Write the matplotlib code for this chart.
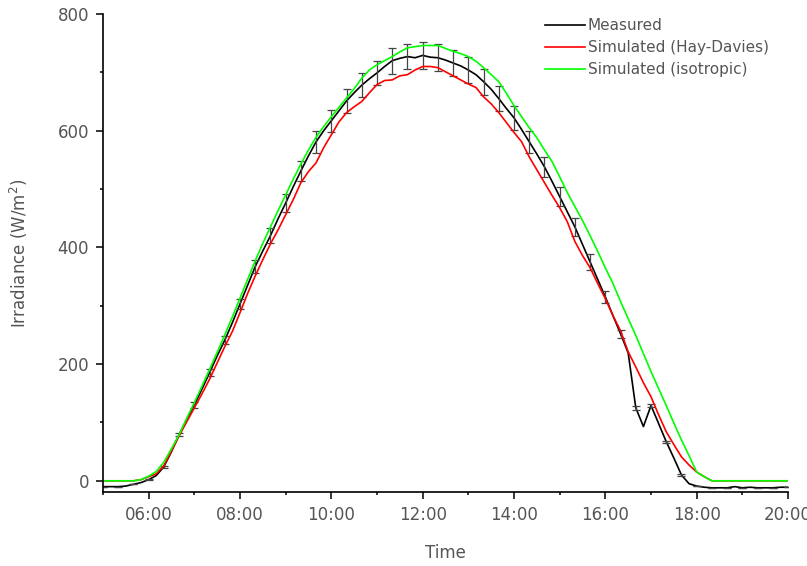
import numpy as np
import matplotlib
matplotlib.use("Agg")
import matplotlib.pyplot as plt
from matplotlib.ticker import MultipleLocator

# time of day in hours, 10 min steps from 05:00 to 20:00
hours = 5 + np.arange(91) / 6

# measured irradiance (W/m2)
measured = [-10, -10, -10, -9, -6, -3, 2, 9, 24, 50,
            79, 105, 130, 157, 185, 214, 241, 271, 303, 335,
            367, 394, 420, 449, 476, 504, 531, 557, 581, 600,
            617, 634, 651, 665, 678, 689, 699, 710, 720, 724,
            727, 725, 729, 726, 725, 721, 716, 711, 704, 696,
            684, 671, 655, 638, 622, 602, 581, 560, 538, 513,
            487, 461, 435, 405, 375, 345, 315, 283, 252, 219,
            125, 93, 129, 98, 67, 39, 10, -5, -9, -11,
            -12, -12, -12, -10, -12, -11, -12, -12, -12, -11, -11]

# standard deviation of the measurement, every 20 min
measured_std = [0, 0, 0, 1, 2, 3, 5, 6, 7, 9,
                11, 13, 15, 17, 19, 19, 20, 21, 21, 22,
                22, 23, 23, 23, 22, 22, 21, 20, 19, 17,
                16, 15, 13, 10, 7, 3, 3, 2, 2, 0,
                0, 0, 0, 0, 0, 0]

model_a = [0, 0, 0, 0, 0, 2, 7, 12, 26, 51,
           77, 101, 125, 149, 174, 202, 230, 256, 288, 321,
           351, 379, 406, 430, 456, 482, 511, 530, 545, 571,
           593, 615, 631, 641, 650, 665, 679, 686, 687, 694,
           696, 704, 710, 710, 708, 701, 694, 687, 680, 674,
           658, 646, 631, 614, 597, 581, 555, 533, 511, 489,
           468, 444, 410, 386, 365, 338, 312, 283, 257, 221,
           195, 168, 144, 113, 84, 62, 41, 27, 15, 7,
           0, 0, 0, 0, 0, 0, 0, 0, 0, 0, 0]

model_b = [0, 0, 0, 0, 0, 2, 8, 16, 32, 55,
           79, 107, 134, 162, 191, 220, 250, 281, 313, 345,
           377, 407, 435, 463, 490, 517, 543, 567, 589, 607,
           624, 640, 656, 672, 690, 704, 713, 720, 727, 735,
           742, 744, 746, 746, 746, 741, 736, 732, 727, 719,
           708, 696, 684, 664, 643, 624, 605, 588, 567, 547,
           521, 494, 470, 446, 420, 393, 365, 338, 307, 278,
           249, 218, 187, 158, 129, 99, 70, 43, 15, 7,
           0, 0, 0, 0, 0, 0, 0, 0, 0, 0, 0]

labels = ["Measured", "Simulated (Hay-Davies)", "Simulated (isotropic)"]
tick_hours = [6, 8, 10, 12, 14, 16, 18, 20]
tick_labels = ["06:00", "08:00", "10:00", "12:00", "14:00", "16:00", "18:00", "20:00"]

TXT = "#555555"
plt.rcParams["font.size"] = 12

fig = plt.figure(figsize=(8.07, 5.66), dpi=100)
ax = fig.add_axes([0.1276, 0.1299, 0.8489, 0.8454])

ax.plot(hours, measured, color="k", lw=1.2, label=labels[0])
ax.errorbar(hours[::2], measured[::2], yerr=measured_std, fmt="none",
            ecolor="#444444", elinewidth=0.9, capsize=3, capthick=0.9)
ax.plot(hours, model_a, color="#ff0000", lw=1.2, label=labels[1])
ax.plot(hours, model_b, color="#00ff00", lw=1.2, label=labels[2])

ax.set_xlim(5, 20)
ax.set_ylim(-20, 800)
ax.set_xticks(tick_hours)
ax.set_xticklabels(tick_labels)
ax.xaxis.set_minor_locator(MultipleLocator(1))
ax.yaxis.set_major_locator(MultipleLocator(200))
ax.yaxis.set_minor_locator(MultipleLocator(100))

for s in ["top", "right"]:
    ax.spines[s].set_visible(False)
for s in ["left", "bottom"]:
    ax.spines[s].set_linewidth(1.2)
ax.tick_params(which="major", direction="out", length=5, width=1.1,
               labelcolor=TXT, pad=5)
ax.tick_params(which="minor", direction="out", length=2.5, width=1.1)

ax.set_xlabel("Time", color=TXT, labelpad=14)
ax.set_ylabel("Irradiance (W/m$^2$)", color=TXT, labelpad=20)

ax.legend(loc="upper left", bbox_to_anchor=(0.625, 1.02), frameon=False,
          handlelength=2.6, handletextpad=0.2, labelspacing=0.45,
          fontsize=11, labelcolor=TXT)

fig.savefig("out.png", dpi=100)
